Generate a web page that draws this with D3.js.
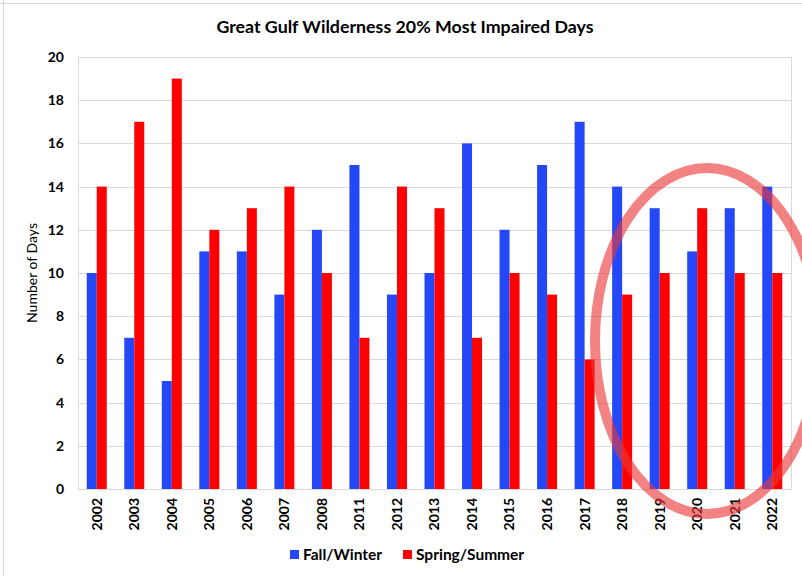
<!DOCTYPE html>
<html>
<head>
<meta charset="utf-8">
<script src="https://cdn.jsdelivr.net/npm/d3@7"></script>
<style>
  html, body { margin: 0; padding: 0; background: #fff; }
  svg { display: block; }
  text { font-family: Lato, "Open Sans", sans-serif; fill: #000; }
</style>
</head>
<body>
<svg id="chart" width="802" height="576"></svg>
<script>
const years = ["2002","2003","2004","2005","2006","2007","2008","2011","2012","2013","2014","2015","2016","2017","2018","2019","2020","2021","2022"];
const fallWinter   = [10, 7, 5, 11, 11, 9, 12, 15, 9, 10, 16, 12, 15, 17, 14, 13, 11, 13, 14];
const springSummer = [14, 17, 19, 12, 13, 14, 10, 7, 14, 13, 7, 10, 9, 6, 9, 10, 13, 10, 10];
const seriesNames = ["Fall/Winter", "Spring/Summer"];
const seriesColors = ["#2448f8", "#ff0000"];
const yTicks = [0, 2, 4, 6, 8, 10, 12, 14, 16, 18, 20];
const titleText = "Great Gulf Wilderness 20% Most Impaired Days";
const yLabel = "Number of Days";

const svg = d3.select("#chart");
const W = 802, H = 576;
const m = { left: 78, right: 11, top: 57, bottom: 87 };
const pw = W - m.left - m.right, ph = H - m.top - m.bottom;

// outer frame
svg.append("line").attr("x1", 0).attr("x2", W).attr("y1", 3.5).attr("y2", 3.5).attr("stroke", "#d9d9d9");
svg.append("line").attr("x1", 3.5).attr("x2", 3.5).attr("y1", 0).attr("y2", H).attr("stroke", "#d9d9d9");

const g = svg.append("g").attr("transform", `translate(${m.left},${m.top})`);

const x0 = d3.scaleBand().domain(years).range([0, pw]).paddingInner(0.467).paddingOuter(0.233);
const x1 = d3.scaleBand().domain(seriesNames).range([0, x0.bandwidth()]).padding(0);
const y = d3.scaleLinear().domain([0, 20]).range([ph, 0]);

// gridlines
g.append("g").selectAll("line").data(yTicks).join("line")
  .attr("x1", 0).attr("x2", pw)
  .attr("y1", d => Math.round(y(d)) + 0.5).attr("y2", d => Math.round(y(d)) + 0.5)
  .attr("stroke", "#d9d9d9").attr("stroke-width", 1);
g.append("rect").attr("x", 0.5).attr("y", 0.5).attr("width", pw).attr("height", ph)
  .attr("fill", "none").attr("stroke", "#d9d9d9");

// y axis labels
const yAxis = g.append("g").call(d3.axisLeft(y).tickValues(yTicks).tickSize(0).tickPadding(14));
yAxis.select(".domain").remove();
yAxis.selectAll("text").attr("font-size", 14).attr("font-weight", "bold")
  .attr("font-family", "Lato, 'Open Sans', sans-serif").attr("fill", "#000");

// bars
const data = years.map((yr, i) => ({ yr, vals: [fallWinter[i], springSummer[i]] }));
const grp = g.append("g").selectAll("g").data(data).join("g")
  .attr("transform", d => `translate(${x0(d.yr)},0)`);
grp.selectAll("rect").data(d => d.vals.map((v, j) => ({ v, s: seriesNames[j], c: seriesColors[j] })))
  .join("rect")
  .attr("x", d => x1(d.s))
  .attr("width", x1.bandwidth())
  .attr("y", d => y(d.v))
  .attr("height", d => y(0) - y(d.v))
  .attr("fill", d => d.c);

// x axis labels
const xAxis = g.append("g").attr("transform", `translate(0,${ph})`)
  .call(d3.axisBottom(x0).tickSize(0).tickPadding(8));
xAxis.select(".domain").remove();
xAxis.selectAll("text")
  .attr("transform", "rotate(-90)")
  .attr("text-anchor", "end")
  .attr("dy", "0.35em")
  .attr("x", -9).attr("y", 0)
  .attr("font-size", 14).attr("font-weight", "bold")
  .attr("font-family", "Lato, 'Open Sans', sans-serif").attr("fill", "#000");

// title
svg.append("text").attr("x", 405).attr("y", 33).attr("text-anchor", "middle")
  .attr("font-size", 17.8).attr("font-weight", "bold").text(titleText);

// y label
svg.append("text").attr("transform", `translate(37,${m.top + ph / 2}) rotate(-90)`)
  .attr("text-anchor", "middle").attr("font-size", 14).text(yLabel);

// legend
const legend = svg.append("g");
const legendItems = [{ x: 290 }, { x: 403 }];
seriesNames.forEach((s, i) => {
  const lx = legendItems[i].x;
  legend.append("rect").attr("x", lx).attr("y", 550).attr("width", 9).attr("height", 9).attr("fill", seriesColors[i]);
  legend.append("text").attr("x", lx + 13).attr("y", 555).attr("dy", "0.35em")
    .attr("font-size", 15.5).attr("font-weight", "bold").text(s);
});

// annotation ellipse
svg.append("ellipse").attr("cx", 707).attr("cy", 341).attr("rx", 112).attr("ry", 173)
  .attr("fill", "none").attr("stroke", "rgb(235,55,55)").attr("stroke-opacity", 0.62).attr("stroke-width", 10);
</script>
</body>
</html>
